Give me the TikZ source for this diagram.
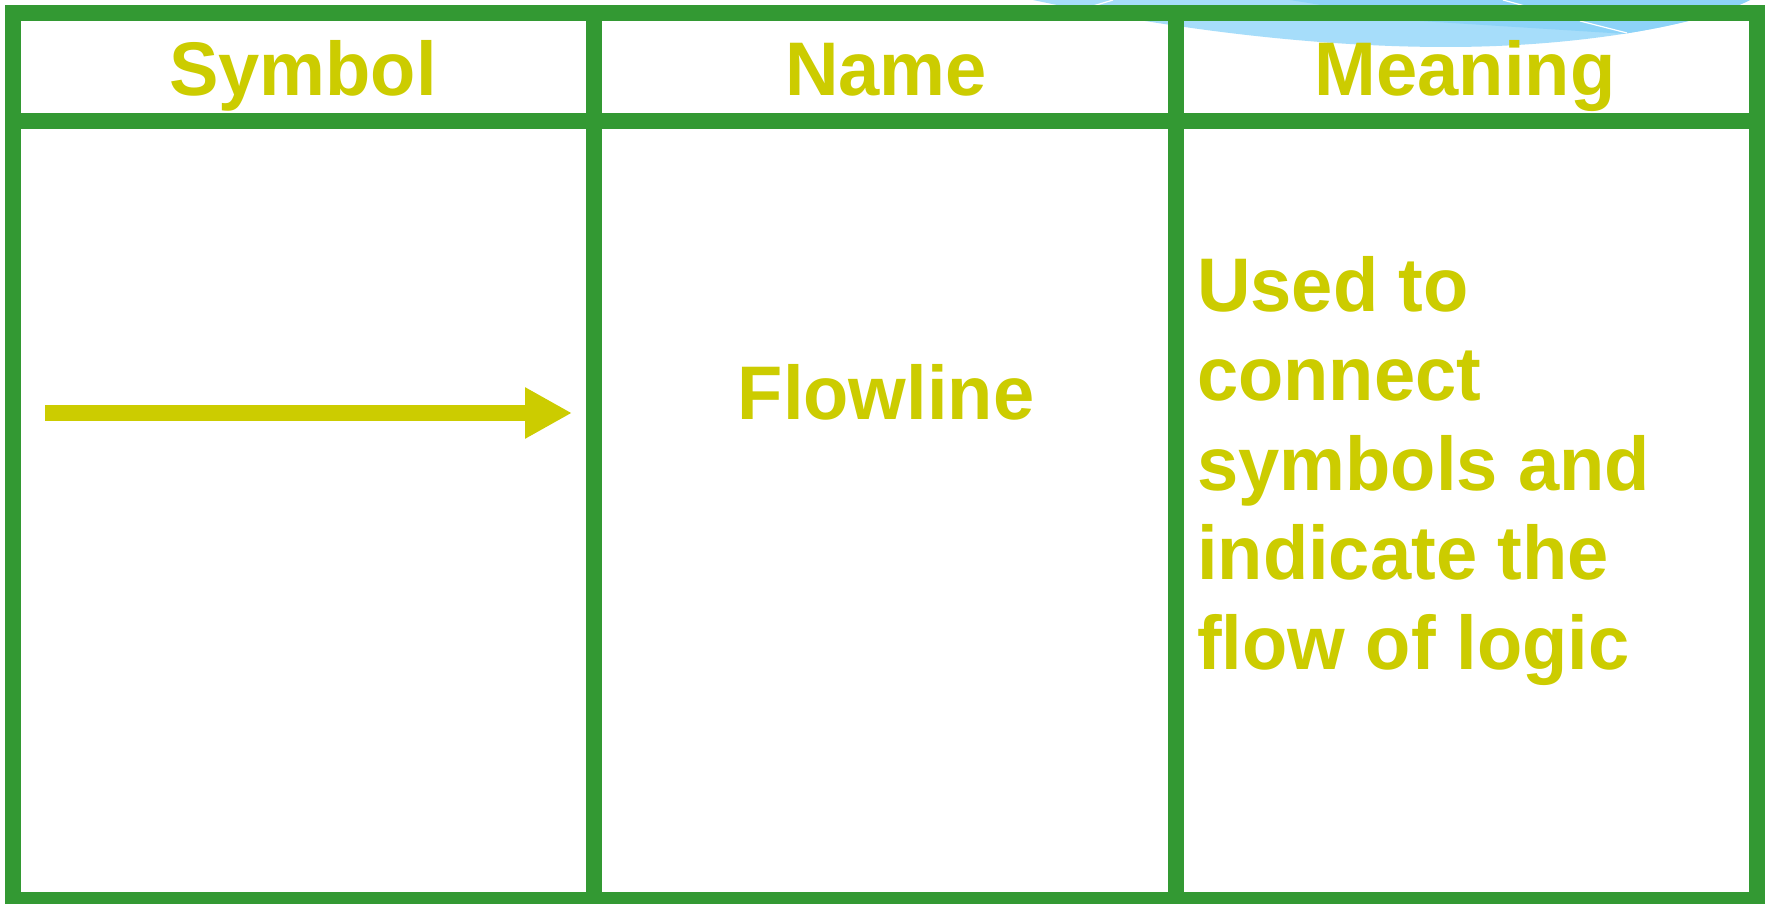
\documentclass[tikz,border=0pt]{standalone}
\usepackage{fontspec}
\setmainfont{Liberation Sans}[FakeStretch=0.975]
\usetikzlibrary{arrows.meta}
\definecolor{gridgreen}{RGB}{51,153,51}
\definecolor{labelyellow}{RGB}{204,204,0}
\definecolor{glassblue}{RGB}{166,221,250}
\definecolor{glassdeep}{RGB}{141,211,248}

\begin{document}
\begin{tikzpicture}[x=1pt,y=-1pt,
  rule/.style={draw=gridgreen,line width=16pt},
  celltext/.style={text=labelyellow,font=\bfseries\fontsize{76}{89.5}\selectfont,inner sep=0pt},
  flow/.style={draw=labelyellow,line width=16pt,-{Triangle[length=47pt,width=48pt]}}]

% page
\fill[white] (0,0) rectangle (1767,904);
\useasboundingbox (0,0) rectangle (1767,904);

% blue glass fragment peeking in at the top
\fill[glassblue] (1033,0) .. controls (1150,25) and (1300,47) .. (1447,47)
  .. controls (1580,47) and (1700,25) .. (1750,0) -- cycle;
\begin{scope}
  \clip (1033,0) .. controls (1150,25) and (1300,47) .. (1447,47)
    .. controls (1580,47) and (1700,25) .. (1750,0) -- cycle;
  \fill[glassdeep] (1290,0) -- (1420,21) -- (1627,34) -- (1800,34) -- (1800,0) -- cycle;
\end{scope}
\draw[white,line width=1.2pt] (1093,6) -- (1113,0);
\draw[white,line width=1.2pt] (1503,0) -- (1525,6);
\draw[white,line width=1.2pt] (1580,21) -- (1627,33);

% table grid
\draw[rule] (12.5,13) rectangle (1757,900);
\draw[rule] (12.5,121) -- (1757,121);
\draw[rule] (594,13) -- (594,900);
\draw[rule] (1176,13) -- (1176,900);

% header
\node[celltext,anchor=base] (hsym) at (303,96) {Symbol};
\node[celltext,anchor=base] (hname) at (886,96) {Name};
\node[celltext,anchor=base] (hmean) at (1465,96) {Meaning};

% row
\coordinate (tail) at (45,413);
\coordinate (head) at (572,413);
\draw[flow] (tail) -- (head);
\node[celltext,anchor=base] (fname) at (886,419) {Flowline};
% base of a multi-line node is the baseline of its last line
\node[celltext,anchor=base west,align=left] (fmean) at (1197,669)
  {Used to\\connect\\symbols and\\indicate the\\flow of logic};
\end{tikzpicture}
\end{document}
